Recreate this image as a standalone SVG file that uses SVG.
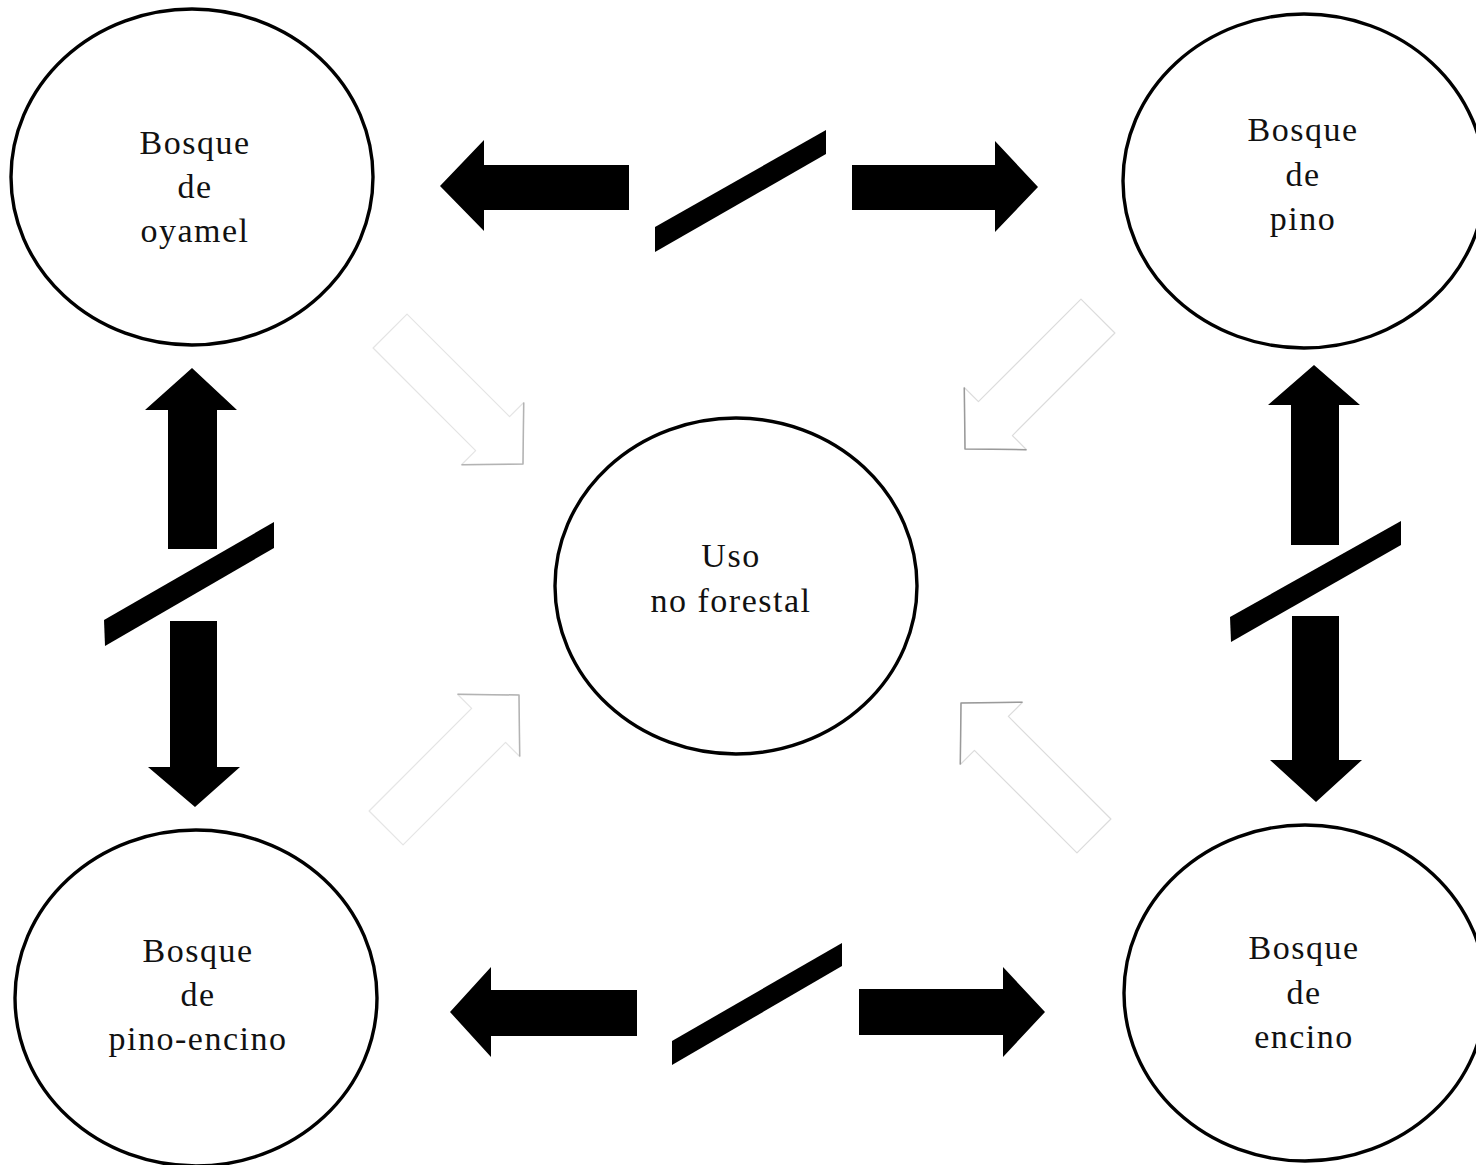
<svg xmlns="http://www.w3.org/2000/svg" width="1476" height="1165" viewBox="0 0 1476 1165">
  <style>
    .node ellipse { fill: #ffffff; stroke: #000000; stroke-width: 3.4; }
    .label { font-family: "Liberation Serif", "Times New Roman", serif; font-size: 34px; letter-spacing: 1.5px; fill: #111111; text-anchor: middle; }
    .solid { fill: #000000; stroke: none; }
    .hollow { fill: none; stroke: #dcdcdc; stroke-width: 1.2; stroke-linejoin: round; }
    .hollow-tip { fill: none; stroke: #9a9a9a; stroke-width: 1.5; stroke-linejoin: round; }
    .faint { opacity: 0.75; }
  </style>
  <defs>
    <!-- open block arrow, tip at the origin, pointing along +x -->
    <g id="open-arrow">
      <polygon class="hollow" points="0,0 -43,-44 -43,-24 -188,-24 -188,24 -43,24 -43,44"/>
      <polyline class="hollow-tip" points="-43,-44 0,0 -43,44"/>
    </g>
  </defs>

  <rect width="1476" height="1165" fill="#ffffff"/>

  <g id="connectors">
    <!-- top pair: oyamel / pino -->
    <polygon class="solid" points="440,186 484,140 484,165 629,165 629,210 484,210 484,231"/>
    <polygon class="solid" points="655,227 826,130 826,154 655,252"/>
    <polygon class="solid" points="852,165 995,165 995,141 1038,187 995,232 995,210 852,210"/>

    <!-- bottom pair: pino-encino / encino -->
    <polygon class="solid" points="450,1012 491,967 491,990 637,990 637,1036 491,1036 491,1057"/>
    <polygon class="solid" points="672,1041 842,943 842,966 672,1065"/>
    <polygon class="solid" points="859,989 1003,989 1003,967 1045,1012 1003,1057 1003,1035 859,1035"/>

    <!-- left pair: oyamel / pino-encino -->
    <polygon class="solid" points="192,368 237,410 217,410 217,549 168,549 168,410 145,410"/>
    <polygon class="solid" points="104,620 274,522 274,548 105,646"/>
    <polygon class="solid" points="170,621 217,621 217,767 240,767 195,807 148,767 170,767"/>

    <!-- right pair: pino / encino -->
    <polygon class="solid" points="1314,365 1360,405 1339,405 1339,545 1291,545 1291,405 1268,405"/>
    <polygon class="solid" points="1230,617 1401,521 1401,545 1231,642"/>
    <polygon class="solid" points="1292,616 1339,616 1339,760 1362,760 1316,802 1270,760 1292,760"/>

    <!-- faint open arrows into the central node -->
    <use class="faint" href="#open-arrow" transform="translate(523,464) rotate(45)"/>
    <use href="#open-arrow" transform="translate(965,449) rotate(135)"/>
    <use class="faint" href="#open-arrow" transform="translate(519,695) rotate(-45)"/>
    <use href="#open-arrow" transform="translate(961,703) rotate(-135)"/>
  </g>

  <g id="node-oyamel" class="node">
    <ellipse cx="192" cy="177" rx="181" ry="168"/>
    <text class="label" x="195" y="154">Bosque</text>
    <text class="label" x="195" y="198">de</text>
    <text class="label" x="195" y="242">oyamel</text>
  </g>

  <g id="node-pino" class="node">
    <ellipse cx="1304" cy="181" rx="181" ry="167"/>
    <text class="label" x="1303" y="141">Bosque</text>
    <text class="label" x="1303" y="186">de</text>
    <text class="label" x="1303" y="230">pino</text>
  </g>

  <g id="node-uso" class="node">
    <ellipse cx="736" cy="586" rx="181" ry="168"/>
    <text class="label" x="731" y="567">Uso</text>
    <text class="label" x="731" y="612">no forestal</text>
  </g>

  <g id="node-pino-encino" class="node">
    <ellipse cx="196" cy="998" rx="181" ry="168"/>
    <text class="label" x="198" y="962">Bosque</text>
    <text class="label" x="198" y="1006">de</text>
    <text class="label" x="198" y="1050">pino-encino</text>
  </g>

  <g id="node-encino" class="node">
    <ellipse cx="1305" cy="993" rx="181" ry="168"/>
    <text class="label" x="1304" y="959">Bosque</text>
    <text class="label" x="1304" y="1004">de</text>
    <text class="label" x="1304" y="1048">encino</text>
  </g>
</svg>
